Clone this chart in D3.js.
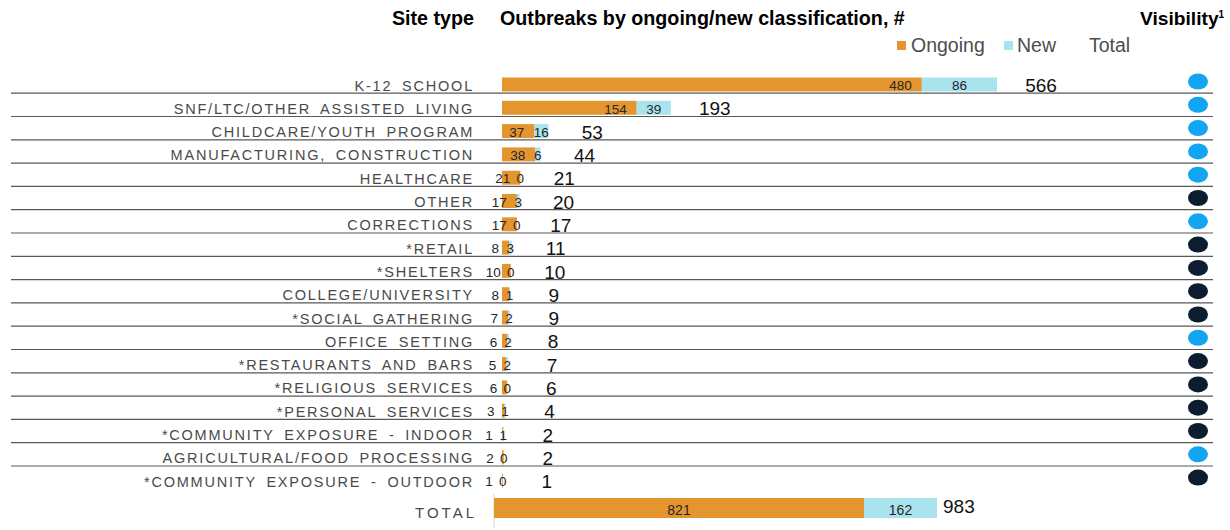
<!DOCTYPE html>
<html><head><meta charset="utf-8">
<script src="https://cdn.jsdelivr.net/npm/d3@7"></script>
<style>
body{margin:0;background:#fff;}
svg{display:block;font-family:"Liberation Sans",Arial,sans-serif;}
</style></head>
<body><svg id="c" width="1230" height="530"></svg>
<script>
const categories = ["K-12 SCHOOL","SNF/LTC/OTHER ASSISTED LIVING","CHILDCARE/YOUTH PROGRAM","MANUFACTURING, CONSTRUCTION","HEALTHCARE","OTHER","CORRECTIONS","*RETAIL","*SHELTERS","COLLEGE/UNIVERSITY","*SOCIAL GATHERING","OFFICE SETTING","*RESTAURANTS AND BARS","*RELIGIOUS SERVICES","*PERSONAL SERVICES","*COMMUNITY EXPOSURE - INDOOR","AGRICULTURAL/FOOD PROCESSING","*COMMUNITY EXPOSURE - OUTDOOR"];
const ongoing = [480,154,37,38,21,17,17,8,10,8,7,6,5,6,3,1,2,1];
const newCases = [86,39,16,6,0,3,0,3,0,1,2,2,2,0,1,1,0,0];
const totals = [566,193,53,44,21,20,17,11,10,9,9,8,7,6,4,2,2,1];
const visibility = ["high","high","high","high","high","low","high","low","low","low","low","high","low","low","low","low","high","low"];
const totalOngoing = 821, totalNew = 162, grandTotal = 983;
const legendLabels = ["Ongoing","New","Total"];

const C_ON = "#E5952E", C_NEW = "#A9E3EE", C_HIGH = "#12A6F2", C_LOW = "#0B1D2E";
const svg = d3.select("#c");

const rowStep = 23.3, top0 = 84.5 - rowStep/2;
const y = d3.scaleBand().domain(categories).range([top0, top0 + rowStep*categories.length]).paddingInner(0.4).paddingOuter(0.2);
const x = d3.scaleLinear().domain([0, 566]).range([502, 997]);
const xt = d3.scaleLinear().domain([0, 983]).range([494, 937]);
const rc = c => y(c) + y.bandwidth()/2;

// headers
svg.append("text").attr("x",474).attr("y",25).attr("text-anchor","end").attr("font-weight","bold").attr("font-size",19.7).attr("fill","#000").text("Site type");
svg.append("text").attr("x",500).attr("y",25).attr("font-weight","bold").attr("font-size",19.7).attr("fill","#000").text("Outbreaks by ongoing/new classification, #");
const vis = svg.append("text").attr("x",1140).attr("y",25).attr("font-weight","bold").attr("font-size",19.2).attr("fill","#000");
vis.append("tspan").text("Visibility");
vis.append("tspan").attr("font-size",10).attr("dy",-7).text("1");

// legend
const lg = svg.append("g").attr("font-size",19.5).attr("fill","#4d4d4d");
lg.append("rect").attr("x",897).attr("y",41).attr("width",9).attr("height",9).attr("fill",C_ON);
lg.append("text").attr("x",911).attr("y",52).text(legendLabels[0]);
lg.append("rect").attr("x",1004).attr("y",41).attr("width",9).attr("height",9).attr("fill",C_NEW);
lg.append("text").attr("x",1017).attr("y",52).text(legendLabels[1]);
lg.append("text").attr("x",1089).attr("y",52).text(legendLabels[2]);

// row separators
const lines = categories.slice(0,-1);
svg.append("g").selectAll("line").data(lines).join("line")
  .attr("x1",11).attr("x2",1213)
  .attr("y1",d=>rc(d)+8.7).attr("y2",d=>rc(d)+8.7)
  .attr("stroke","#595959").attr("stroke-width",1.2);

// category labels
svg.append("g").selectAll("text").data(categories).join("text")
  .attr("x",474).attr("y",d=>rc(d)+1).attr("dy","0.35em").attr("text-anchor","end")
  .attr("font-size",14.5).attr("letter-spacing",1.78).attr("word-spacing",4).attr("fill","#4a4a4a")
  .text(d=>d);

const rows = categories.map((c,i)=>({c, on:ongoing[i], nw:newCases[i], tot:totals[i], vis:visibility[i]}));

// bars
svg.append("g").selectAll("rect").data(rows).join("rect")
  .attr("x",x(0)).attr("y",d=>y(d.c)).attr("width",d=>x(d.on)-x(0)).attr("height",y.bandwidth()).attr("fill",C_ON);
svg.append("g").selectAll("rect").data(rows).join("rect")
  .attr("x",d=>x(d.on)).attr("y",d=>y(d.c)).attr("width",d=>x(d.on+d.nw)-x(d.on)).attr("height",y.bandwidth()).attr("fill",C_NEW);

// bar labels
svg.append("g").selectAll("text").data(rows).join("text")
  .attr("x",d=>x(d.on)-10).attr("y",d=>rc(d.c)+1).attr("dy","0.35em").attr("text-anchor","end")
  .attr("font-size",13.5).attr("fill","#262626").text(d=>d.on);
svg.append("g").selectAll("text").data(rows).join("text")
  .attr("x",d=>(x(d.on)+x(d.on+d.nw))/2).attr("y",d=>rc(d.c)+1).attr("dy","0.35em").attr("text-anchor","middle")
  .attr("font-size",13.5).attr("fill","#262626").text(d=>d.nw);
svg.append("g").selectAll("text").data(rows).join("text")
  .attr("x",d=>x(d.tot)+44).attr("y",d=>rc(d.c)+1).attr("dy","0.35em").attr("text-anchor","middle")
  .attr("font-size",19).attr("fill","#111").text(d=>d.tot);

// visibility dots
svg.append("g").selectAll("ellipse").data(rows).join("ellipse")
  .attr("cx",1198).attr("cy",d=>rc(d.c)-3).attr("rx",10).attr("ry",8)
  .attr("fill",d=>d.vis==="high"?C_HIGH:C_LOW);

// total row
const ty = 498, th = 20;
svg.append("line").attr("x1",xt(0)).attr("x2",xt(0)).attr("y1",494).attr("y2",528).attr("stroke","#d9d9d9");
svg.append("rect").attr("x",xt(0)).attr("y",ty).attr("width",xt(totalOngoing)-xt(0)).attr("height",th).attr("fill",C_ON);
svg.append("rect").attr("x",xt(totalOngoing)).attr("y",ty).attr("width",xt(grandTotal)-xt(totalOngoing)).attr("height",th).attr("fill",C_NEW);
svg.append("text").attr("x",(xt(0)+xt(totalOngoing))/2).attr("y",ty+th/2+2).attr("dy","0.35em").attr("text-anchor","middle").attr("font-size",14).attr("fill","#262626").text(totalOngoing);
svg.append("text").attr("x",(xt(totalOngoing)+xt(grandTotal))/2).attr("y",ty+th/2+2).attr("dy","0.35em").attr("text-anchor","middle").attr("font-size",14).attr("fill","#262626").text(totalNew);
svg.append("text").attr("x",xt(grandTotal)+6).attr("y",ty+th/2-2).attr("dy","0.35em").attr("font-size",19).attr("fill","#111").text(grandTotal);
svg.append("text").attr("x",477).attr("y",ty+th/2+5).attr("dy","0.35em").attr("text-anchor","end").attr("font-size",15).attr("letter-spacing",3).attr("fill","#4a4a4a").text("TOTAL");
</script></body></html>
